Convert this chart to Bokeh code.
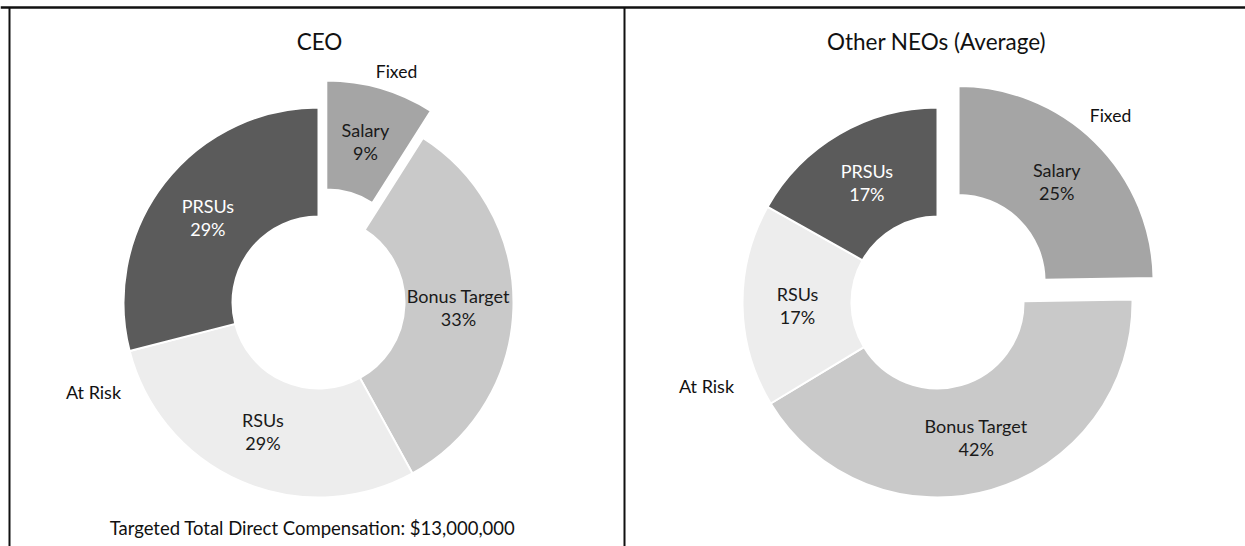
import math
from bokeh.plotting import figure
from bokeh.models import Range1d, ColumnDataSource
from bokeh.core.properties import value
from bokeh.embed import file_html
from bokeh.resources import INLINE

# ---- data ----
categories = ["Salary", "Bonus Target", "RSUs", "PRSUs"]
ceo_pct = [9, 33, 29, 29]
neo_pct = [25, 42, 17, 17]
slice_colors = ["#a5a5a5", "#c9c9c9", "#ededed", "#5b5b5b"]
label_colors = ["#1a1a1a", "#1a1a1a", "#1a1a1a", "#ffffff"]
panel_titles = ["CEO", "Other NEOs (Average)"]
group_labels = ["Fixed", "At Risk"]
footnote = "Targeted Total Direct Compensation: $13,000,000"

FONT = "Lato"
W, H = 1245, 546
p = figure(width=W, height=H, output_backend="svg", toolbar_location=None,
           x_range=Range1d(0, W), y_range=Range1d(-H, 0),
           min_border=0, outline_line_color=None)
p.axis.visible = False
p.grid.visible = False
p.background_fill_color = "white"

R_OUT, R_IN = 195, 86
LABEL_R = 140


def donut(cx, cy, pcts, explode):
    total = float(sum(pcts))
    cum = 0.0
    xs, ys, sa, ea, lx, ly = [], [], [], [], [], []
    for i, v in enumerate(pcts):
        a0 = cum / total
        a1 = (cum + v) / total
        cum += v
        start = math.pi / 2 - 2 * math.pi * a0
        end = math.pi / 2 - 2 * math.pi * a1
        mid = (start + end) / 2
        d = explode if i == 0 else 0
        x0 = cx + d * math.cos(mid)
        y0 = cy + d * math.sin(mid)
        xs.append(x0); ys.append(y0); sa.append(start); ea.append(end)
        lx.append(x0 + LABEL_R * math.cos(mid))
        ly.append(y0 + LABEL_R * math.sin(mid))
    src = ColumnDataSource(dict(x=xs, y=ys, start=sa, end=ea, color=slice_colors,
                                lx=lx, ly=ly, name=categories,
                                pct=[f"{v}%" for v in pcts], tc=label_colors))
    p.annular_wedge(x="x", y="y", inner_radius=R_IN, outer_radius=R_OUT,
                    start_angle="start", end_angle="end", direction="clock",
                    fill_color="color", line_color="white", line_width=2, source=src)
    p.text(x="lx", y="ly", text="name", text_color="tc", text_font=value(FONT),
           text_font_size="18px", text_align="center", text_baseline="middle",
           y_offset=-11, source=src)
    p.text(x="lx", y="ly", text="pct", text_color="tc", text_font=value(FONT),
           text_font_size="18px", text_align="center", text_baseline="middle",
           y_offset=12, source=src)


donut(318, -302, ceo_pct, 28)
donut(937, -302, neo_pct, 30)

# titles
p.text(x=[319, 936], y=[-41, -41], text=panel_titles, text_font=value(FONT),
       text_font_size="22.5px", text_align="center", text_baseline="middle",
       text_color="#111111")
# group labels
p.text(x=[396, 1110], y=[-71, -115], text=[group_labels[0]] * 2, text_font=value(FONT),
       text_font_size="17.5px", text_align="center", text_baseline="middle",
       text_color="#111111")
p.text(x=[93, 706], y=[-391, -385], text=[group_labels[1]] * 2, text_font=value(FONT),
       text_font_size="18px", text_align="center", text_baseline="middle",
       text_color="#111111")
p.text(x=[312], y=[-527], text=[footnote], text_font=value(FONT),
       text_font_size="18.5px", text_align="center", text_baseline="middle",
       text_color="#111111")

# panel borders
p.line(x=[0, W], y=[-7, -7], line_color="#111111", line_width=2.5)
p.line(x=[9, 9], y=[-7, -H], line_color="#111111", line_width=2)
p.line(x=[624, 624], y=[-7, -H], line_color="#111111", line_width=2)

open("out.html", "w").write(file_html(p, INLINE))
